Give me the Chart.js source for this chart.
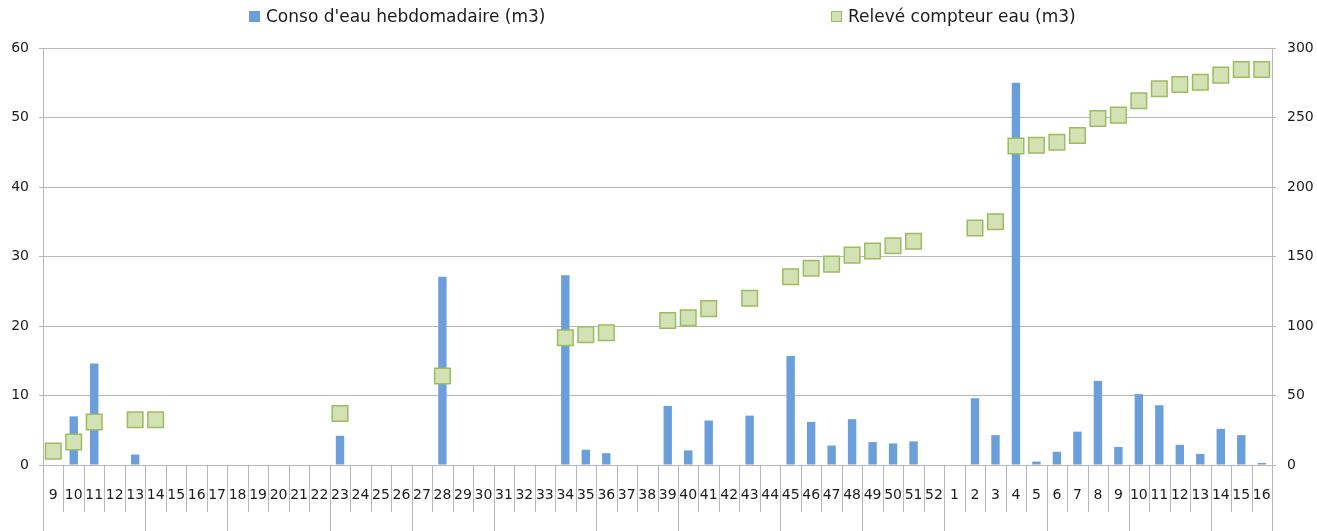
<!DOCTYPE html>
<html>
<head>
<meta charset="utf-8">
<script src="https://cdn.jsdelivr.net/npm/chart.js@4/dist/chart.umd.min.js"></script>
<style>
  html, body { margin: 0; padding: 0; background: #fff; }
  #wrap { width: 1317px; height: 531px; position: relative; }
</style>
</head>
<body>
<div id="wrap"><canvas id="eauChart"></canvas></div>
<script>
// ===================== DONNÉES =====================
// Numéros de semaine (de la semaine 9 à la semaine 16 de l'année suivante)
const semaines = ['9', '10', '11', '12', '13', '14', '15', '16', '17', '18', '19', '20', '21', '22',
    '23', '24', '25', '26', '27', '28', '29', '30', '31', '32', '33', '34', '35', '36', '37', '38',
    '39', '40', '41', '42', '43', '44', '45', '46', '47', '48', '49', '50', '51', '52',
    '1', '2', '3', '4', '5', '6', '7', '8', '9', '10', '11', '12', '13', '14', '15', '16'];

// Consommation hebdomadaire (m3) - axe de gauche
const conso = [null, 7.0, 14.6, null, 1.5, null, null, null, null, null, null, null, null, null,
    4.2, null, null, null, null, 27.1, null, null, null, null, null, 27.3, 2.2, 1.7, null, null,
    8.5, 2.1, 6.4, null, 7.1, null, 15.7, 6.2, 2.8, 6.6, 3.3, 3.1, 3.4, null,
    null, 9.6, 4.3, 55.0, 0.5, 1.9, 4.8, 12.1, 2.6, 10.2, 8.6, 2.9, 1.6, 5.2, 4.3, 0.3];

// Relevé du compteur (m3) - axe de droite
const releve = [10, 16.5, 31, null, 32.5, 32.5, null, null, null, null, null, null, null, null,
    37, null, null, null, null, 64, null, null, null, null, null, 91.5, 93.8, 95.2, null, null,
    104, 106, 112.5, null, 120, null, 135.5, 141.5, 144.5, 151, 154, 157.8, 161, null,
    null, 170.5, 175, 229.5, 230, 232.2, 237, 249.3, 251.7, 262, 270.7, 273.7, 275.3, 280.5, 284.6, 284.6];

// Index des changements de mois sur l'axe des semaines
const debutsMois = [0, 5, 9, 14, 18, 22, 27, 31, 36, 40, 44, 49, 53, 57, 60];

const bleu = '#6b9fdb';
const vertFond = '#d3e2b5';
const vertBord = '#9cbc5e';
const gris = '#b7b7b7';

// Légende dessinée à la main (les deux entrées sont très espacées)
const legendePlugin = {
    id: 'legendeEau',
    afterDraw(chart) {
        const ctx = chart.ctx;
        ctx.save();
        ctx.font = '17px "DejaVu Sans"';
        ctx.textBaseline = 'middle';
        const items = [
            { x: 249, fill: bleu, stroke: bleu, text: chart.data.datasets[0].label },
            { x: 831, fill: vertFond, stroke: vertBord, text: chart.data.datasets[1].label }
        ];
        items.forEach(it => {
            ctx.fillStyle = it.fill;
            ctx.fillRect(it.x, 11, 11, 11);
            ctx.strokeStyle = it.stroke;
            ctx.lineWidth = 1;
            ctx.strokeRect(it.x + 0.5, 11.5, 10, 10);
            ctx.fillStyle = '#1c1c1c';
            ctx.fillText(it.text, it.x + 17, 18);
        });
        ctx.restore();
    }
};

// Séparateurs sous l'axe X : courts entre semaines, longs entre mois
const separateursPlugin = {
    id: 'separateurs',
    afterDraw(chart) {
        const x = chart.scales.x;
        const ctx = chart.ctx;
        const bas = chart.chartArea.bottom;
        ctx.save();
        ctx.strokeStyle = gris;
        ctx.lineWidth = 1;
        for (let i = 0; i <= semaines.length; i++) {
            const px = Math.round(x.getPixelForValue(i - 0.5)) + 0.5;
            const fin = debutsMois.includes(i) ? chart.height : bas + 47;
            ctx.beginPath();
            ctx.moveTo(px, bas);
            ctx.lineTo(px, fin);
            ctx.stroke();
        }
        ctx.restore();
    }
};

const ctx = document.getElementById('eauChart').getContext('2d');
new Chart(ctx, {
    type: 'bar',
    data: {
        labels: semaines,
        datasets: [{
            label: "Conso d'eau hebdomadaire (m3)",
            data: conso,
            backgroundColor: bleu,
            borderWidth: 0,
            categoryPercentage: 1,
            barPercentage: 0.41,
            yAxisID: 'y',
            order: 2
        }, {
            type: 'line',
            label: 'Relevé compteur eau (m3)',
            data: releve,
            showLine: false,
            pointStyle: 'rect',
            pointRadius: 11,
            pointHoverRadius: 11,
            pointBackgroundColor: vertFond,
            pointBorderColor: vertBord,
            pointBorderWidth: 1.5,
            yAxisID: 'y1',
            order: 1
        }]
    },
    options: {
        responsive: true,
        maintainAspectRatio: false,
        animation: false,
        layout: { padding: { top: 48, left: 0, right: 0, bottom: 0 } },
        plugins: {
            legend: { display: false },
            tooltip: { enabled: false }
        },
        scales: {
            x: {
                grid: { display: false, drawTicks: false },
                border: { display: false },
                ticks: {
                    autoSkip: false,
                    maxRotation: 0,
                    padding: 22,
                    color: '#1c1c1c',
                    font: { family: 'DejaVu Sans', size: 14 }
                },
                afterFit: s => { s.height = 66; }
            },
            y: {
                position: 'left',
                min: 0,
                max: 60,
                ticks: {
                    stepSize: 10,
                    padding: 10,
                    color: '#1c1c1c',
                    font: { family: 'DejaVu Sans', size: 14 }
                },
                grid: { color: gris, tickLength: 4 },
                border: { display: true, color: gris },
                afterFit: s => { s.width = 43; }
            },
            y1: {
                position: 'right',
                min: 0,
                max: 300,
                ticks: {
                    stepSize: 50,
                    padding: 11,
                    color: '#1c1c1c',
                    font: { family: 'DejaVu Sans', size: 14 }
                },
                grid: { drawOnChartArea: false, color: gris, tickLength: 4 },
                border: { display: true, color: gris },
                afterFit: s => { s.width = 45; }
            }
        }
    },
    plugins: [legendePlugin, separateursPlugin]
});
</script>
</body>
</html>
